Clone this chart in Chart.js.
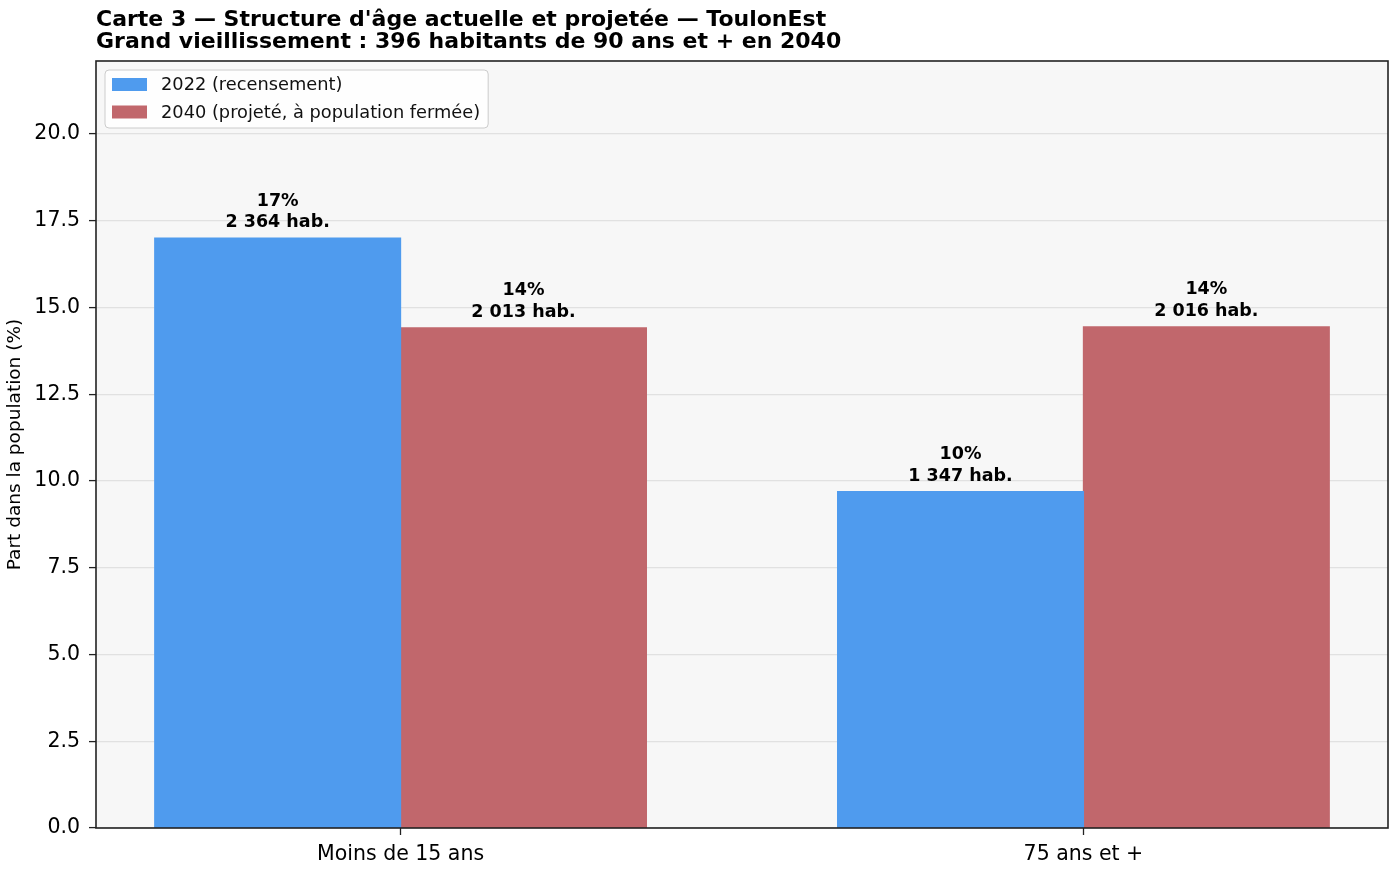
<!DOCTYPE html>
<html>
<head>
<meta charset="utf-8">
<script src="https://cdn.jsdelivr.net/npm/chart.js@4/dist/chart.umd.min.js"></script>
<style>
  html, body { margin: 0; padding: 0; background: #fff; }
  #wrap { width: 1395px; height: 870px; }
</style>
</head>
<body>
<div id="wrap"><canvas id="graficoCarte3"></canvas></div>
<script>
var categories = ['Moins de 15 ans', '75 ans et +'];
var seriesNames = ['2022 (recensement)', '2040 (projeté, à population fermée)'];
var part2022 = [17.0, 9.69];
var part2040 = [14.41, 14.44];
var hab2022 = [2364, 1347];
var hab2040 = [2013, 2016];
var yTicks = [0, 2.5, 5, 7.5, 10, 12.5, 15, 17.5, 20];
var titleLines = [
    "Carte 3 — Structure d'âge actuelle et projetée — ToulonEst",
    'Grand vieillissement : 396 habitants de 90 ans et + en 2040'
];
var colors = ['#4f9bee', '#c1676c'];

var FONT = 'DejaVu Sans';

function fmtHab(n) {
    return String(n).replace(/\B(?=(\d{3})+(?!\d))/g, ' ') + ' hab.';
}

var decor = {
    id: 'decor',
    beforeDraw: function (chart) {
        var c = chart.ctx, a = chart.chartArea;
        c.save();
        c.fillStyle = '#ffffff';
        c.fillRect(0, 0, chart.width, chart.height);
        c.fillStyle = '#f7f7f7';
        c.fillRect(a.left, a.top, a.right - a.left, a.bottom - a.top);
        c.restore();
    },
    afterDraw: function (chart) {
        var c = chart.ctx, a = chart.chartArea;
        c.save();

        // cadre
        c.strokeStyle = '#222';
        c.lineWidth = 1.6;
        c.strokeRect(a.left, a.top, a.right - a.left, a.bottom - a.top);

        // étiquettes au-dessus des barres
        var habs = [hab2022, hab2040];
        c.fillStyle = '#000';
        c.textAlign = 'center';
        c.textBaseline = 'alphabetic';
        c.font = 'bold 17.5px "' + FONT + '"';
        chart.data.datasets.forEach(function (ds, d) {
            var meta = chart.getDatasetMeta(d);
            meta.data.forEach(function (el, i) {
                var v = ds.data[i].y;
                c.fillText(Math.round(v) + '%', el.x, el.y - 32.5);
                c.fillText(fmtHab(habs[d][i]), el.x, el.y - 11);
            });
        });

        // légende
        c.font = '17.8px "' + FONT + '"';
        var maxW = 0;
        seriesNames.forEach(function (s) { maxW = Math.max(maxW, c.measureText(s).width); });
        var bx = a.left + 9, by = a.top + 9;
        var bw = 65 + maxW + 8 - 9, bh = 58;
        c.beginPath();
        c.roundRect(bx, by, bw, bh, 4);
        c.fillStyle = 'rgba(255,255,255,0.8)';
        c.fill();
        c.strokeStyle = '#cccccc';
        c.lineWidth = 1;
        c.stroke();
        c.textAlign = 'left';
        c.textBaseline = 'middle';
        seriesNames.forEach(function (s, k) {
            var cy = a.top + 23.5 + k * 27.5;
            c.fillStyle = colors[k];
            c.fillRect(a.left + 16, cy - 6.5, 35, 13);
            c.fillStyle = '#111';
            c.fillText(s, a.left + 65, cy + 1);
        });

        // titre
        c.fillStyle = '#000';
        c.textBaseline = 'alphabetic';
        c.font = 'bold 22px "' + FONT + '"';
        c.fillText(titleLines[0], a.left, 25.5);
        c.fillText(titleLines[1], a.left, 47.5);

        c.restore();
    }
};

var ctx = document.getElementById('graficoCarte3').getContext('2d');
var graficoCarte3 = new Chart(ctx, {
    type: 'bar',
    data: {
        datasets: [
            {
                label: seriesNames[0],
                data: part2022.map(function (v, i) { return { x: i, y: v }; }),
                backgroundColor: colors[0],
                borderWidth: 0,
                inflateAmount: 0.6,
                categoryPercentage: 0.72,
                barPercentage: 1.0
            },
            {
                label: seriesNames[1],
                data: part2040.map(function (v, i) { return { x: i, y: v }; }),
                backgroundColor: colors[1],
                borderWidth: 0,
                inflateAmount: 0.6,
                categoryPercentage: 0.72,
                barPercentage: 1.0
            }
        ]
    },
    options: {
        responsive: true,
        maintainAspectRatio: false,
        animation: false,
        layout: { padding: { left: 0, top: 61, right: 7, bottom: 0 } },
        plugins: {
            legend: { display: false },
            title: { display: false },
            tooltip: { enabled: false }
        },
        scales: {
            x: {
                type: 'linear',
                min: -0.446,
                max: 1.446,
                offset: false,
                afterBuildTicks: function (s) {
                    s.ticks = categories.map(function (c, i) { return { value: i }; });
                },
                afterFit: function (s) { s.height = 42; },
                ticks: {
                    autoSkip: false,
                    maxRotation: 0,
                    padding: 7,
                    color: '#000',
                    font: { family: FONT, size: 20.5 },
                    callback: function (v) { return categories[v]; }
                },
                grid: {
                    offset: false,
                    drawOnChartArea: false,
                    tickLength: 7,
                    tickColor: '#222',
                    tickWidth: 1.3
                },
                border: { display: false }
            },
            y: {
                min: 0,
                max: 22.1,
                z: 1,
                afterBuildTicks: function (s) {
                    s.ticks = yTicks.map(function (v) { return { value: v }; });
                },
                afterFit: function (s) { s.width = 96; },
                ticks: {
                    padding: 9,
                    color: '#000',
                    font: { family: FONT, size: 20.5 },
                    callback: function (v) { return Number(v).toFixed(1); }
                },
                grid: {
                    color: 'rgba(176,176,176,0.3)',
                    lineWidth: 1.2,
                    tickLength: 7,
                    tickColor: '#222',
                    tickWidth: 1.3
                },
                border: { display: false },
                title: {
                    display: true,
                    text: 'Part dans la population (%)',
                    color: '#000',
                    font: { family: FONT, size: 18.5 },
                    padding: { top: 4, bottom: 0 }
                }
            }
        }
    },
    plugins: [decor]
});
</script>
</body>
</html>
